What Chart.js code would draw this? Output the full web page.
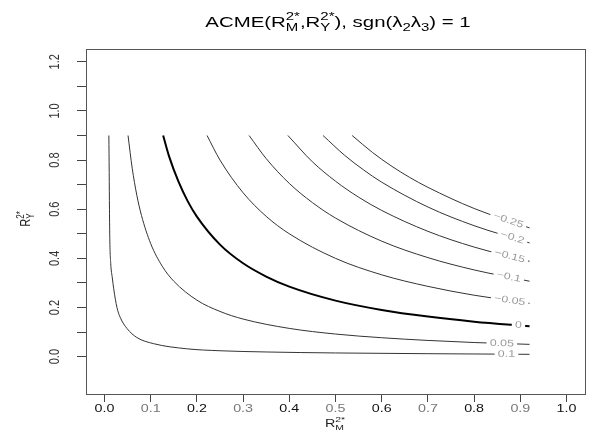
<!DOCTYPE html>
<html>
<head>
<meta charset="utf-8">
<script src="https://cdn.jsdelivr.net/npm/chart.js@4.4.0/dist/chart.umd.min.js"></script>
<style>
  html, body { margin: 0; padding: 0; background: #fff; }
</style>
</head>
<body>
<canvas id="acmeChart" width="591" height="443"></canvas>
<script>
// tick positions
const xTicks = [0, 0.1, 0.2, 0.3, 0.4, 0.5, 0.6, 0.7, 0.8, 0.9, 1.0];
const yTicks = [0, 0.1, 0.2, 0.3, 0.4, 0.5, 0.6, 0.7, 0.8, 0.9, 1.0, 1.1, 1.2];
const yLabelTicks = [0, 0.2, 0.4, 0.6, 0.8, 1.0, 1.2];

// contour levels of the ACME
const levels = [0.1, 0.05, 0, -0.05, -0.1, -0.15, -0.2, -0.25];

// contour lines, [R2M*, R2Y*]
const acmePos10 = [[0.0095, 0.9], [0.0102, 0.75], [0.0108, 0.6], [0.0115, 0.48], [0.0135, 0.38], [0.017, 0.32],
  [0.02, 0.276], [0.027, 0.2], [0.034, 0.16], [0.049, 0.114], [0.07, 0.078], [0.106, 0.053], [0.178, 0.032],
  [0.25, 0.024], [0.35, 0.019], [0.5, 0.015], [0.7, 0.012], [0.92, 0.0095]];
const acmePos05 = [[0.051, 0.9], [0.06, 0.767], [0.07, 0.657], [0.08, 0.575], [0.1, 0.46], [0.125, 0.368],
  [0.15, 0.307], [0.2, 0.23], [0.25, 0.184], [0.3, 0.153], [0.4, 0.115], [0.5, 0.092], [0.6, 0.077],
  [0.7, 0.066], [0.8, 0.0575], [0.92, 0.05]];
const acmeZero = [[0.127, 0.9], [0.14, 0.814], [0.16, 0.713], [0.18, 0.633], [0.2, 0.57], [0.25, 0.456],
  [0.3, 0.38], [0.35, 0.326], [0.4, 0.285], [0.5, 0.228], [0.6, 0.19], [0.7, 0.163], [0.8, 0.1425], [0.92, 0.124]];
const acmeNeg05 = [[0.222, 0.9], [0.25, 0.8], [0.3, 0.667], [0.35, 0.571], [0.4, 0.5], [0.5, 0.4],
  [0.6, 0.333], [0.7, 0.286], [0.8, 0.25], [0.92, 0.217]];
const acmeNeg10 = [[0.313, 0.9], [0.35, 0.806], [0.4, 0.705], [0.45, 0.627], [0.5, 0.564], [0.6, 0.47],
  [0.7, 0.403], [0.8, 0.353], [0.92, 0.307]];
const acmeNeg15 = [[0.397, 0.9], [0.45, 0.793], [0.5, 0.714], [0.55, 0.649], [0.6, 0.595], [0.7, 0.51],
  [0.8, 0.446], [0.92, 0.388]];
const acmeNeg20 = [[0.473, 0.9], [0.52, 0.819], [0.56, 0.761], [0.6, 0.71], [0.7, 0.609], [0.8, 0.533], [0.92, 0.463]];
const acmeNeg25 = [[0.536, 0.9], [0.58, 0.831], [0.62, 0.777], [0.66, 0.73], [0.7, 0.689], [0.8, 0.603], [0.92, 0.524]];

const contours = [acmePos10, acmePos05, acmeZero, acmeNeg05, acmeNeg10, acmeNeg15, acmeNeg20, acmeNeg25];

// where along x each contour label sits
const labelAt = [0.87, 0.86, 0.896, 0.877, 0.875, 0.877, 0.883, 0.874];

const FONT = '"Liberation Sans", Arial, Helvetica, sans-serif';
// the reference text is a bit wide, stretch it sideways
const STRETCH = 1.3;

function levelText(v) {
  if (v === 0) return '0';
  return (v < 0 ? '\u2212' : '') + String(Math.abs(v));
}

// plotmath-like text: parts are [text] or [text, 'sub'] or [[sup, sub], 'ss']
function drawMath(ctx, parts, cx, baseY, size, sx) {
  const big = size + 'px ' + FONT;
  const small = Math.round(size * 0.72) + 'px ' + FONT;
  const widths = parts.map(p => {
    if (p[1] === 'ss') {
      ctx.font = small;
      return Math.max(ctx.measureText(p[0][0]).width, ctx.measureText(p[0][1]).width);
    }
    ctx.font = p[1] === 'sub' ? small : big;
    return ctx.measureText(p[0]).width;
  });
  ctx.save();
  ctx.translate(cx, baseY);
  ctx.scale(sx || 1, 1);
  let x = -widths.reduce((a, b) => a + b, 0) / 2;
  ctx.textAlign = 'left';
  ctx.textBaseline = 'alphabetic';
  parts.forEach((p, i) => {
    if (p[1] === 'ss') {
      ctx.font = small;
      ctx.fillText(p[0][0], x, -size * 0.45);
      ctx.fillText(p[0][1], x, size * 0.28);
    } else if (p[1] === 'sub') {
      ctx.font = small;
      ctx.fillText(p[0], x, size * 0.28);
    } else {
      ctx.font = big;
      ctx.fillText(p[0], x, 0);
    }
    x += widths[i];
  });
  ctx.restore();
}

const rDecor = {
  id: 'rDecor',
  afterDatasetsDraw(chart) {
    const ctx = chart.ctx;
    const xs = chart.scales.x;
    ctx.save();
    chart.data.datasets.forEach((ds, di) => {
      const pts = chart.getDatasetMeta(di).data;
      const px = xs.getPixelForValue(labelAt[di]);
      let k = 1;
      while (k < pts.length - 1 && pts[k].x < px) k++;
      const a = pts[k - 1], b = pts[k];
      const t = (px - a.x) / (b.x - a.x);
      const py = a.y + t * (b.y - a.y);
      const ang = Math.atan2(b.y - a.y, b.x - a.x);
      const txt = levelText(levels[di]);
      ctx.save();
      ctx.translate(px, py);
      ctx.rotate(ang);
      ctx.scale(STRETCH, 1);
      ctx.font = '9.5px ' + FONT;
      const w = ctx.measureText(txt).width;
      ctx.fillStyle = '#fff';
      ctx.fillRect(-w / 2 - 2.5, -5, w + 5, 10);
      ctx.fillStyle = '#9a9a9a';
      ctx.textAlign = 'center';
      ctx.textBaseline = 'middle';
      ctx.fillText(txt, 0, 0);
      ctx.restore();
    });
    ctx.restore();
  },
  afterDraw(chart) {
    const ctx = chart.ctx;
    const area = chart.chartArea;
    const xs = chart.scales.x;
    const ys = chart.scales.y;
    ctx.save();
    // box
    ctx.strokeStyle = '#555';
    ctx.lineWidth = 1;
    ctx.strokeRect(Math.round(area.left) + 0.5, Math.round(area.top) + 0.5,
      Math.round(area.right - area.left), Math.round(area.bottom - area.top));

    ctx.fillStyle = '#000';
    drawMath(ctx, [['ACME(R'], [['2*', 'M'], 'ss'], [',R'], [['2*', 'Y'], 'ss'],
      ['), sgn(\u03bb'], ['2', 'sub'], ['\u03bb'], ['3', 'sub'], [') = 1']], 338, 27, 15, 1.36);

    // x tick labels
    xTicks.forEach((v, i) => {
      ctx.fillStyle = i % 2 ? '#777' : '#111';
      drawMath(ctx, [[v.toFixed(1)]], xs.getPixelForValue(v), 412, 11, STRETCH);
    });

    // y tick labels, vertical as in R
    ctx.fillStyle = '#333';
    ctx.font = '11px ' + FONT;
    yLabelTicks.forEach(v => {
      ctx.save();
      ctx.translate(59, ys.getPixelForValue(v));
      ctx.rotate(-Math.PI / 2);
      ctx.scale(1, STRETCH);
      ctx.textAlign = 'center';
      ctx.textBaseline = 'alphabetic';
      ctx.fillText(v.toFixed(1), 0, 0);
      ctx.restore();
    });

    // axis titles
    ctx.fillStyle = '#222';
    drawMath(ctx, [['R'], [['2*', 'M'], 'ss']], 335, 427, 11, STRETCH);
    ctx.save();
    ctx.translate(30, 219);
    ctx.rotate(-Math.PI / 2);
    ctx.scale(1, STRETCH);
    drawMath(ctx, [['R'], [['2*', 'Y'], 'ss']], 0, 0, 11, 1);
    ctx.restore();
    ctx.restore();
  }
};

const datasets = contours.map((c, i) => ({
  label: levelText(levels[i]),
  data: c.map(p => ({ x: p[0], y: p[1] })),
  borderColor: levels[i] === 0 ? '#000' : '#333',
  borderWidth: levels[i] === 0 ? 2 : 1,
  pointRadius: 0,
  fill: false,
  cubicInterpolationMode: 'monotone'
}));

new Chart(document.getElementById('acmeChart').getContext('2d'), {
  type: 'line',
  data: { datasets },
  options: {
    responsive: false,
    animation: false,
    layout: { padding: { left: 0, top: 49, right: 6, bottom: 0 } },
    plugins: {
      legend: { display: false },
      tooltip: { enabled: false },
      title: { display: false }
    },
    scales: {
      x: {
        type: 'linear',
        min: -0.04,
        max: 1.04,
        afterBuildTicks: s => { s.ticks = xTicks.map(v => ({ value: v })); },
        afterFit: s => { s.height = 49; },
        border: { display: false },
        grid: { drawOnChartArea: false, drawTicks: true, tickLength: 8, color: '#444' },
        ticks: { display: false }
      },
      y: {
        type: 'linear',
        min: -0.152,
        max: 1.252,
        afterBuildTicks: s => { s.ticks = yTicks.map(v => ({ value: v })); },
        afterFit: s => { s.width = 86; },
        border: { display: false },
        grid: { drawOnChartArea: false, drawTicks: true, tickLength: 9, color: '#444' },
        ticks: { display: false }
      }
    }
  },
  plugins: [rDecor]
});
</script>
</body>
</html>
